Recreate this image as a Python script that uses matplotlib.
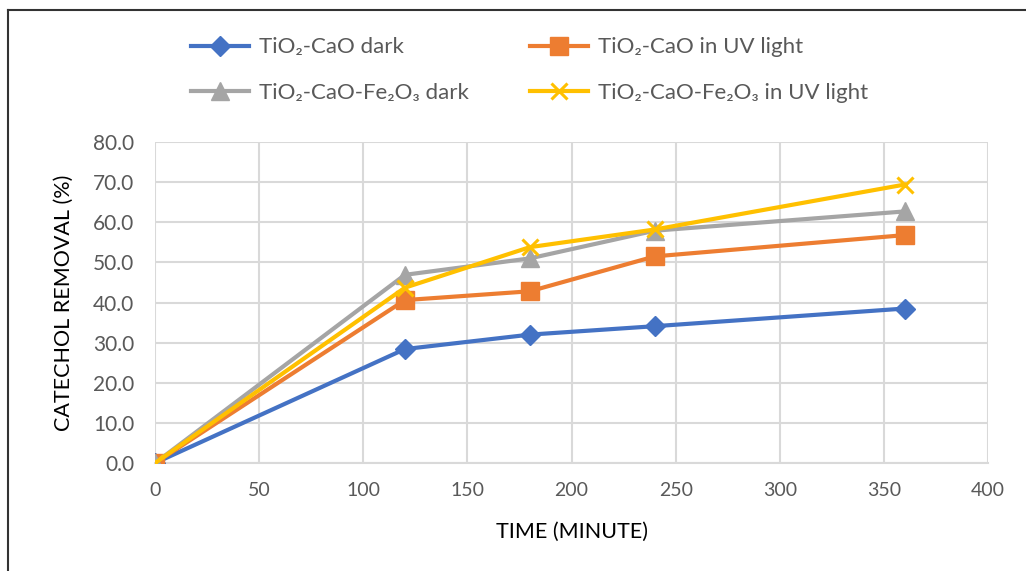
import matplotlib.pyplot as plt
from matplotlib.lines import Line2D

plt.rcParams['font.family'] = ['Lato', 'DejaVu Sans']

time_min = [0, 120, 180, 240, 360]
cao_dark = [0.0, 28.4, 32.0, 34.1, 38.5]
cao_uv = [0.0, 40.6, 42.8, 51.5, 56.8]
fe_dark = [0.0, 46.9, 51.0, 57.9, 62.7]
fe_uv = [0.0, 43.7, 53.8, 58.2, 69.4]
labels = ['TiO₂-CaO dark', 'TiO₂-CaO in UV light',
          'TiO₂-CaO-Fe₂O₃ dark', 'TiO₂-CaO-Fe₂O₃ in UV light']

fig = plt.figure(figsize=(10.26, 5.71), dpi=100)
ax = fig.add_axes([0.1511, 0.1891, 0.8119, 0.5622])

lw = 3.0
l1, = ax.plot(time_min, cao_dark, color='#4472C4', lw=lw, marker='D', ms=10, zorder=3)
l2, = ax.plot(time_min, cao_uv, color='#ED7D31', lw=lw, marker='s', ms=13, zorder=3)
l3, = ax.plot(time_min, fe_dark, color='#A5A5A5', lw=lw, marker='^', ms=13, zorder=3)
l4, = ax.plot(time_min, fe_uv, color='#FFC000', lw=lw, marker='x', ms=12, mew=2.2, zorder=4)

ax.set_xlim(0, 400)
ax.set_ylim(0, 80)
ax.set_xticks(range(0, 401, 50))
ax.set_yticks(range(0, 81, 10))
ax.set_yticklabels([f'{v:.1f}' for v in range(0, 81, 10)])
ax.grid(True, color='#D9D9D9', lw=1.5)
ax.set_axisbelow(True)
for s in ['top', 'right', 'left']:
    ax.spines[s].set_visible(False)
ax.spines['bottom'].set_color('#D9D9D9')
ax.spines['bottom'].set_linewidth(1.5)
ax.tick_params(length=0, colors='#595959')
ax.tick_params(axis='x', labelsize=14, pad=14)
ax.tick_params(axis='y', labelsize=15, pad=15)
ax.set_xlabel('TIME (MINUTE)', fontsize=15.5, labelpad=16)
ax.set_ylabel('CATECHOL REMOVAL (%)', fontsize=15.5, labelpad=14)

# legend, filled column-wise
fig.legend([l1, l3, l2, l4], [labels[0], labels[2], labels[1], labels[3]],
           ncol=2, loc='center', bbox_to_anchor=(0.516, 0.877), frameon=False,
           fontsize=16, handlelength=2.6, handletextpad=0.45, columnspacing=2.75,
           labelspacing=1.15, labelcolor='#595959')

# outer frame
fig.add_artist(Line2D([0.008, 0.008], [0, 0.983], color='#333333', lw=1.5, transform=fig.transFigure))
fig.add_artist(Line2D([0.008, 1.0], [0.983, 0.983], color='#333333', lw=1.5, transform=fig.transFigure))

fig.savefig('out.png', dpi=100)
